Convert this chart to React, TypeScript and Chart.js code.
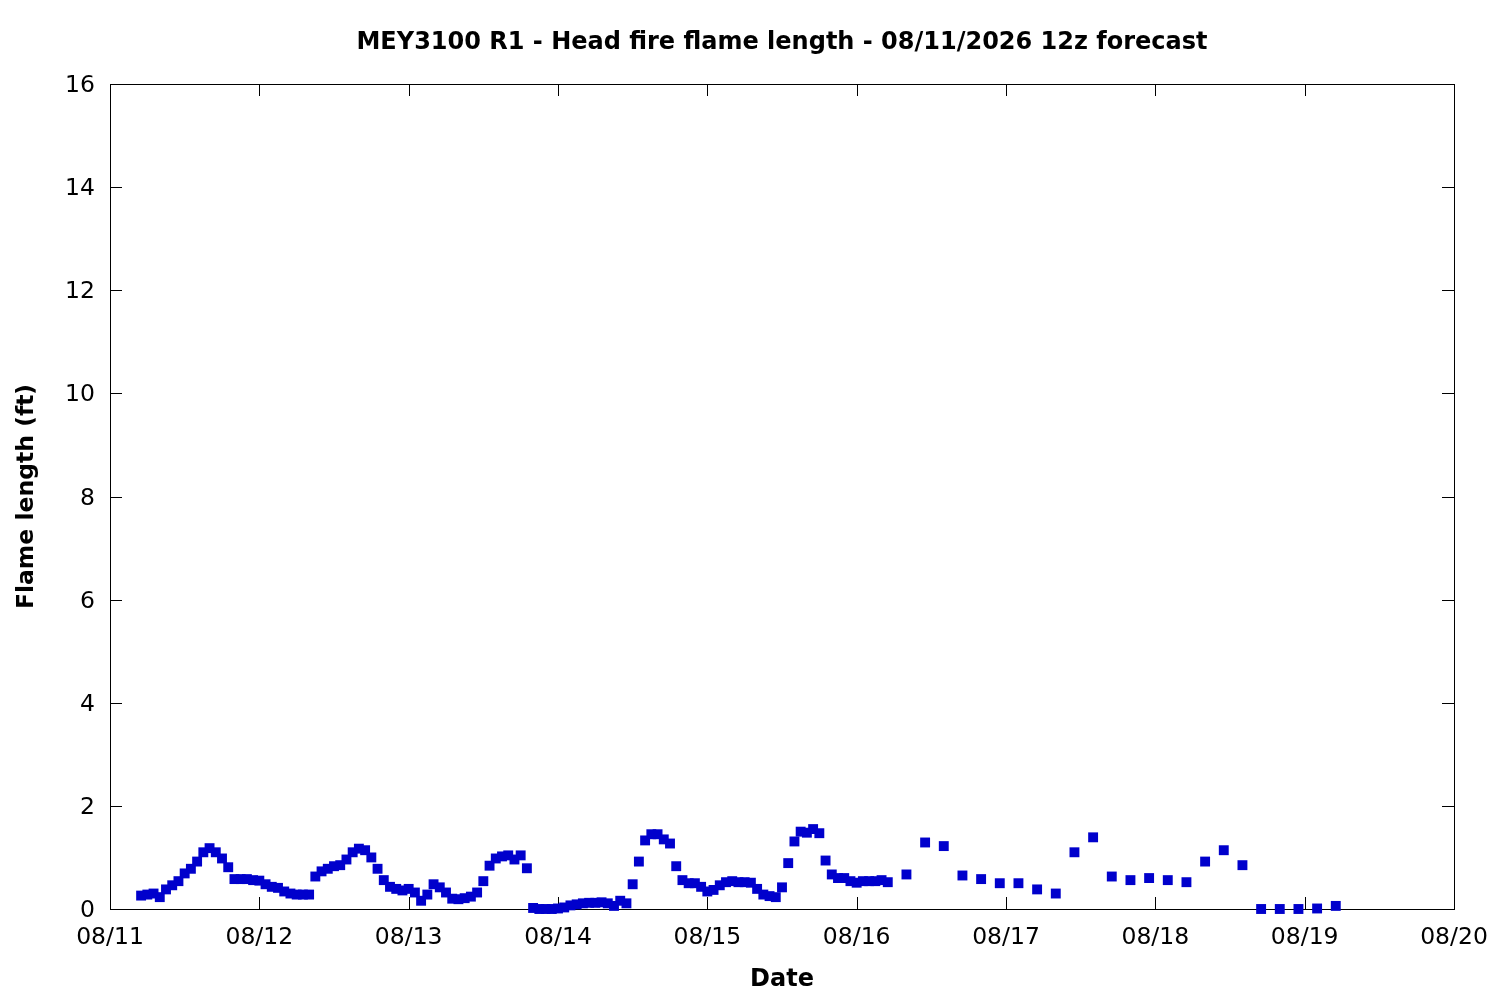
import React, { useEffect, useRef } from "react";
import { Chart, registerables } from "chart.js";

Chart.register(...registerables);

const titleText = "MEY3100 R1 - Head fire flame length - 08/11/2026 12z forecast";
const xAxisTitle = "Date";
const yAxisTitle = "Flame length (ft)";

// hours since 08/11 00z
const hoursSinceStart: number[] = [
  5, 6, 7, 8, 9, 10, 11, 12, 13, 14, 15, 16, 17, 18, 19, 20, 21, 22, 23, 24,
  25, 26, 27, 28, 29, 30, 31, 32, 33, 34, 35, 36, 37, 38, 39, 40, 41, 42, 43, 44,
  45, 46, 47, 48, 49, 50, 51, 52, 53, 54, 55, 56, 57, 58, 59, 60, 61, 62, 63, 64,
  65, 66, 67, 68, 69, 70, 71, 72, 73, 74, 75, 76, 77, 78, 79, 80, 81, 82, 83, 84,
  85, 86, 87, 88, 89, 90, 91, 92, 93, 94, 95, 96, 97, 98, 99, 100, 101, 102, 103, 104,
  105, 106, 107, 108, 109, 110, 111, 112, 113, 114, 115, 116, 117, 118, 119, 120, 121, 122, 123, 124,
  125, 128, 131, 134, 137, 140, 143, 146, 149, 152, 155, 158, 161, 164, 167, 170, 173, 176, 179, 182,
  185, 188, 191, 194, 197,
];

const flameLengthFt: number[] = [
  0.26, 0.28, 0.30, 0.23, 0.38, 0.46, 0.54, 0.69, 0.78, 0.92, 1.10, 1.18, 1.10, 0.98, 0.81, 0.58, 0.58, 0.58, 0.56, 0.55,
  0.48, 0.43, 0.41, 0.34, 0.30, 0.28, 0.28, 0.28, 0.63, 0.73, 0.78, 0.83, 0.85, 0.96, 1.10, 1.17, 1.14, 1.00, 0.78, 0.56,
  0.43, 0.39, 0.36, 0.39, 0.32, 0.16, 0.28, 0.48, 0.42, 0.32, 0.20, 0.19, 0.21, 0.24, 0.32, 0.54, 0.84, 0.98, 1.02, 1.04,
  0.96, 1.04, 0.79, 0.02, 0.00, 0.00, 0.00, 0.01, 0.03, 0.07, 0.09, 0.11, 0.12, 0.12, 0.13, 0.11, 0.06, 0.16, 0.11, 0.48,
  0.92, 1.33, 1.45, 1.45, 1.35, 1.27, 0.83, 0.56, 0.50, 0.50, 0.43, 0.34, 0.37, 0.46, 0.52, 0.54, 0.52, 0.52, 0.51, 0.39,
  0.28, 0.25, 0.23, 0.42, 0.89, 1.31, 1.50, 1.48, 1.55, 1.47, 0.94, 0.67, 0.60, 0.60, 0.54, 0.51, 0.54, 0.54, 0.54, 0.56,
  0.52, 0.67, 1.29, 1.22, 0.65, 0.58, 0.50, 0.50, 0.38, 0.30, 1.10, 1.39, 0.63, 0.56, 0.60, 0.56, 0.52, 0.92, 1.14, 0.85,
  0.00, 0.00, 0.00, 0.01, 0.06,
];

const xTickLabels: string[] = ["08/11", "08/12", "08/13", "08/14", "08/15", "08/16", "08/17", "08/18", "08/19", "08/20"];
const yTickValues: number[] = [0, 2, 4, 6, 8, 10, 12, 14, 16];

const FONT = "'DejaVu Sans', sans-serif";
const TICK_LEN = 12;

const framePlugin = {
  id: "gnuplotFrame",
  beforeDatasetsDraw(chart: any) {
    const { ctx, chartArea, scales } = chart;
    const { left, right, top, bottom } = chartArea;
    ctx.save();
    ctx.strokeStyle = "#000";
    ctx.lineWidth = 1;
    ctx.beginPath();
    for (let i = 0; i < xTickLabels.length; i++) {
      const px = Math.round(scales.x.getPixelForValue(i * 24)) + 0.5;
      ctx.moveTo(px, bottom);
      ctx.lineTo(px, bottom - TICK_LEN);
      ctx.moveTo(px, top);
      ctx.lineTo(px, top + TICK_LEN);
    }
    for (const v of yTickValues) {
      const py = Math.round(scales.y.getPixelForValue(v)) + 0.5;
      ctx.moveTo(left, py);
      ctx.lineTo(left + TICK_LEN, py);
      ctx.moveTo(right, py);
      ctx.lineTo(right - TICK_LEN, py);
    }
    ctx.stroke();
    ctx.strokeRect(Math.round(left) + 0.5, Math.round(top) + 0.5, Math.round(right - left), Math.round(bottom - top));
    ctx.restore();
  },
};

export default function App() {
  const canvasRef = useRef<HTMLCanvasElement | null>(null);

  useEffect(() => {
    document.body.style.margin = "0";
    const canvas = canvasRef.current;
    if (!canvas) return;
    const points = hoursSinceStart.map((h, i) => ({ x: h, y: flameLengthFt[i] }));
    const chart = new Chart(canvas, {
      type: "scatter",
      data: {
        datasets: [
          {
            label: "Flame length",
            data: points,
            pointStyle: "rect",
            pointRadius: 7,
            pointHoverRadius: 7,
            pointBorderWidth: 0,
            backgroundColor: "#0000cc",
            borderColor: "#0000cc",
            clip: false as any,
          },
        ],
      },
      options: {
        animation: false,
        responsive: false,
        devicePixelRatio: 1,
        layout: { padding: { left: 0, right: 46, top: 0, bottom: 0 } },
        plugins: {
          legend: { display: false },
          tooltip: { enabled: false },
          title: {
            display: true,
            text: titleText,
            fullSize: false,
            color: "#000",
            font: { family: FONT, size: 24, weight: "bold", lineHeight: 1.2 },
            padding: { top: 28.6, bottom: 26.6 },
          },
        },
        scales: {
          x: {
            type: "linear",
            min: 0,
            max: 216,
            afterFit: (s: any) => {
              s.height = 91;
            },
            afterBuildTicks: (s: any) => {
              s.ticks = xTickLabels.map((_, i) => ({ value: i * 24 }));
            },
            ticks: {
              autoSkip: false,
              maxRotation: 0,
              padding: 10,
              color: "#000",
              font: { family: FONT, size: 23.5, lineHeight: 1.6 },
              callback: (v: any) => xTickLabels[Math.round(Number(v) / 24)] ?? "",
            },
            grid: { display: false, drawTicks: false },
            border: { display: false },
            title: {
              display: true,
              text: xAxisTitle,
              color: "#000",
              font: { family: FONT, size: 24, weight: "bold", lineHeight: 1.2 },
              padding: { top: 0, bottom: 5.6 },
            },
          },
          y: {
            type: "linear",
            min: 0,
            max: 16,
            afterFit: (s: any) => {
              s.width = 110;
            },
            afterBuildTicks: (s: any) => {
              s.ticks = yTickValues.map((v) => ({ value: v }));
            },
            ticks: {
              padding: 15,
              labelOffset: 2,
              color: "#000",
              font: { family: FONT, size: 23.5 },
              callback: (v: any) => String(v),
            },
            grid: { display: false, drawTicks: false },
            border: { display: false },
            title: {
              display: true,
              text: yAxisTitle,
              color: "#000",
              font: { family: FONT, size: 23.5, weight: "bold", lineHeight: 1.2 },
              padding: { top: 12.9, bottom: 0 },
            },
          },
        },
      },
      plugins: [framePlugin],
    });
    return () => chart.destroy();
  }, []);

  return (
    <div style={{ position: "absolute", left: 0, top: 0, width: 1500, height: 1000, background: "#fff" }}>
      <canvas ref={canvasRef} width={1500} height={1000} style={{ width: 1500, height: 1000, display: "block" }} />
    </div>
  );
}
